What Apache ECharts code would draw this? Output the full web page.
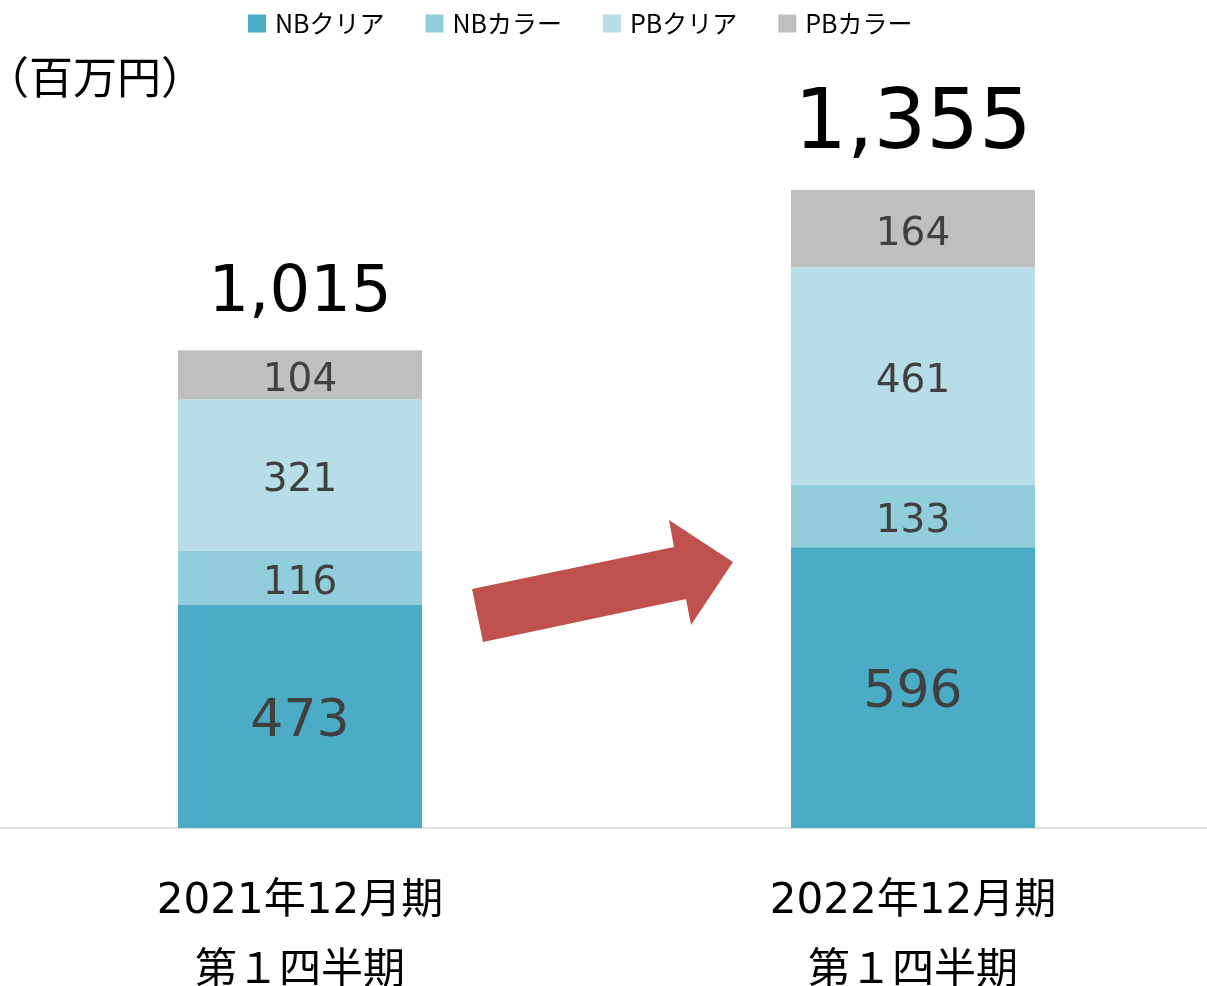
<!DOCTYPE html>
<html><head><meta charset="utf-8">
<script src="https://cdn.jsdelivr.net/npm/echarts@6/dist/echarts.min.js"></script>
<style>html,body{margin:0;padding:0;background:#fff}#c{width:1207px;height:986px}</style>
</head><body><div id="c"></div>
<script>
var categories = ['2021年12月期\n第１四半期', '2022年12月期\n第１四半期'];
var seriesNames = ['NBクリア', 'NBカラー', 'PBクリア', 'PBカラー'];
var nbClear = [473, 596];
var nbColor = [116, 133];
var pbClear = [321, 461];
var pbColor = [104, 164];
var totals = [1015, 1355];
var unitLabel = '（百万円）';

var colors = ['#4BACC6', '#92CDDC', '#B7DEE8', '#BFBFBF'];
var values = [nbClear, nbColor, pbClear, pbColor];
var numFont = '"DejaVu Sans", sans-serif';
var jpFont = '"Noto Sans CJK JP", sans-serif';
var mixFont = '"DejaVu Sans", "Noto Sans CJK JP", sans-serif';

var chart = echarts.init(document.getElementById('c'), null, {renderer: 'canvas'});
var series = values.map(function (arr, i) {
  return {
    name: seriesNames[i], type: 'bar', stack: 'a', barWidth: 244,
    itemStyle: {color: colors[i]},
    data: arr,
    label: {show: true, position: 'inside', color: '#404040', offset: [0, 6],
      fontFamily: numFont, fontSize: i === 0 ? 52 : 39}
  };
});
series.push({
  name: 'total', type: 'line', symbol: 'circle', symbolSize: 1, silent: true,
  itemStyle: {color: 'rgba(0,0,0,0)'},
  lineStyle: {width: 0, color: 'rgba(0,0,0,0)'},
  data: totals.map(function (v, i) {
    return {value: v, label: {fontSize: i === 0 ? 64 : 83, lineHeight: i === 0 ? 64 : 83, distance: i === 0 ? 23 : 21}};
  }),
  label: {show: true, position: 'top', color: '#000', fontFamily: numFont,
    formatter: function (p) { return p.value.toLocaleString('en-US'); }},
  z: 5
});

chart.setOption({
  animation: false,
  backgroundColor: '#fff',
  legend: {
    data: seriesNames, top: 6, left: 243, icon: 'rect',
    itemWidth: 18, itemHeight: 18, itemGap: 41,
    textStyle: {fontSize: 25, color: '#000', fontFamily: jpFont, padding: [0, 0, 0, 4]}
  },
  grid: {left: -6.5, right: -12.5, top: 121.2, bottom: 158, outerBoundsMode: 'none', containLabel: false},
  xAxis: {
    type: 'category', data: categories,
    axisLine: {lineStyle: {color: '#D9D9D9', width: 1.5}},
    axisTick: {show: false},
    axisLabel: {margin: 39, fontSize: 42, lineHeight: 70, color: '#000', fontFamily: mixFont}
  },
  yAxis: {type: 'value', min: 0, max: 1500, show: false, splitLine: {show: false}},
  series: series,
  graphic: [
    {type: 'text', left: -15, top: 55, style: {text: unitLabel, fontSize: 44, fill: '#000', fontFamily: jpFont}},
    {type: 'polygon', shape: {points: [[472,589],[674,547],[669,520],[733,562],[691,625],[686,599],[483,642]]},
      style: {fill: '#C0504D'}, z: 10}
  ]
});
</script></body></html>
